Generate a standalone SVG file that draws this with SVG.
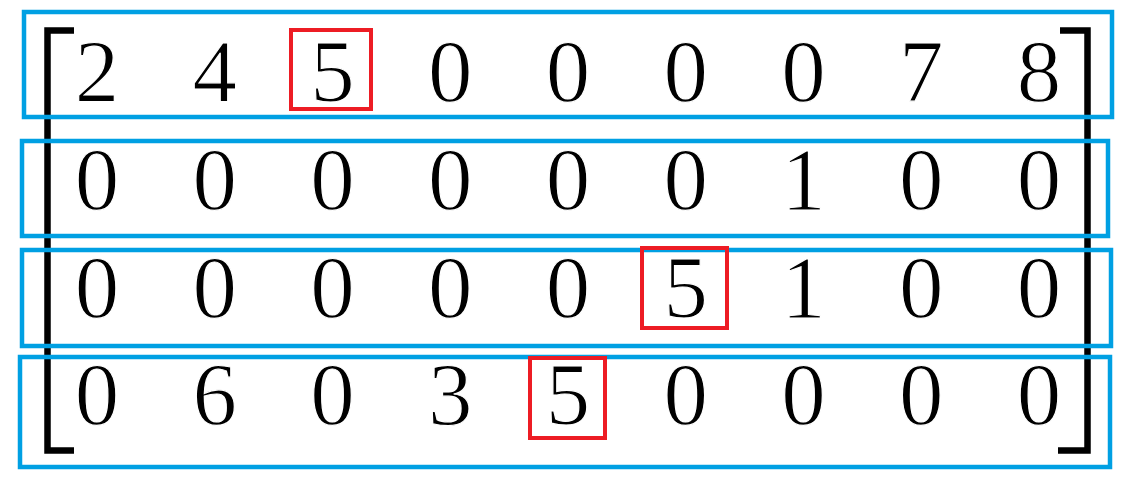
<svg xmlns="http://www.w3.org/2000/svg" width="1130" height="490" viewBox="0 0 1130 490">
<style>
.row{fill:none;stroke:#00A0E3;stroke-width:4.5}
.hl{fill:none;stroke:#ED1C24;stroke-width:4}
.br{fill:none;stroke:#000;stroke-width:6.5;stroke-linejoin:miter;stroke-linecap:butt}
text{font-family:"Liberation Serif","DejaVu Serif",serif;font-size:89px;fill:#000;stroke:#fff;stroke-width:1.2;paint-order:fill;text-anchor:middle}
</style>
<rect width="1130" height="490" fill="#fff"/>
<g id="brackets">
<path class="br" d="M74,30.5 H47.5 V450.5 H74"/>
<path class="br" d="M1060,30.5 H1087.5 V450.5 H1058"/>
</g>
<g id="row1">
<rect class="row" x="24" y="12" width="1088" height="105"/>
<text x="97" y="101">2</text><text x="214.75" y="101">4</text><text x="332.5" y="101">5</text><text x="450.25" y="101">0</text><text x="568" y="101">0</text><text x="685.75" y="101">0</text><text x="803.5" y="101">0</text><text x="921.25" y="101">7</text><text x="1039" y="101">8</text>
</g>
<g id="row2">
<rect class="row" x="22" y="141" width="1086" height="95"/>
<text x="97" y="209">0</text><text x="214.75" y="209">0</text><text x="332.5" y="209">0</text><text x="450.25" y="209">0</text><text x="568" y="209">0</text><text x="685.75" y="209">0</text><text x="803.5" y="209">1</text><text x="921.25" y="209">0</text><text x="1039" y="209">0</text>
</g>
<g id="row3">
<rect class="row" x="22" y="250" width="1089" height="96"/>
<text x="97" y="317">0</text><text x="214.75" y="317">0</text><text x="332.5" y="317">0</text><text x="450.25" y="317">0</text><text x="568" y="317">0</text><text x="685.75" y="317">5</text><text x="803.5" y="317">1</text><text x="921.25" y="317">0</text><text x="1039" y="317">0</text>
</g>
<g id="row4">
<rect class="row" x="20" y="357" width="1090" height="110"/>
<text x="97" y="424">0</text><text x="214.75" y="424">6</text><text x="332.5" y="424">0</text><text x="450.25" y="424">3</text><text x="568" y="424">5</text><text x="685.75" y="424">0</text><text x="803.5" y="424">0</text><text x="921.25" y="424">0</text><text x="1039" y="424">0</text>
</g>
<g id="highlights">
<rect class="hl" x="291" y="30" width="80" height="79"/>
<rect class="hl" x="642" y="248" width="85" height="80"/>
<rect class="hl" x="530" y="358" width="75" height="80"/>
</g>
</svg>
